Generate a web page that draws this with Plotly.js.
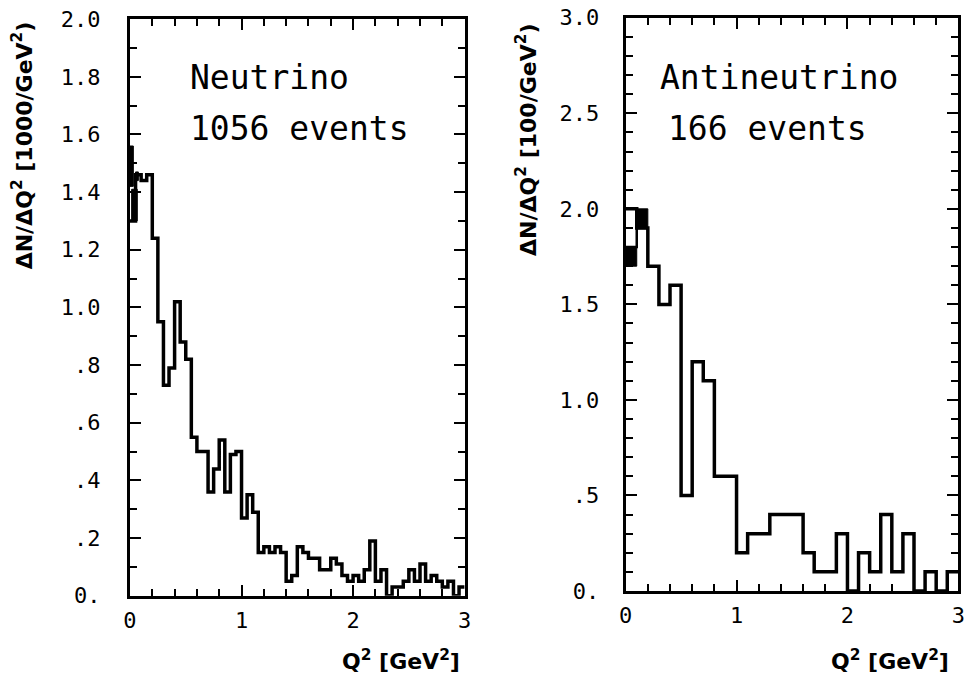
<!DOCTYPE html>
<html>
<head>
<meta charset="utf-8">
<script src="https://cdn.plot.ly/plotly-3.0.1.min.js"></script>
<style>
  html, body { margin: 0; padding: 0; background: #fff; }
  #chart { width: 970px; height: 684px; }
</style>
</head>
<body>
<div id="chart"></div>
<script>
// ---------- Neutrino sample: dN/dQ2 in units of 1000/GeV^2, 0.05 GeV^2 bins ----------
const nuBinWidth = 0.05;
const nuValues = [
  1.30, 1.46, 1.44, 1.46, 1.24, 0.95, 0.73, 0.79, 1.02, 0.88,
  0.82, 0.55, 0.50, 0.50, 0.36, 0.44, 0.54, 0.36, 0.49, 0.50,
  0.27, 0.35, 0.29, 0.15, 0.17, 0.15, 0.17, 0.15, 0.05, 0.07,
  0.17, 0.15, 0.13, 0.13, 0.09, 0.09, 0.13, 0.11, 0.07, 0.05,
  0.07, 0.05, 0.09, 0.19, 0.05, 0.09, 0.00, 0.03, 0.03, 0.05,
  0.09, 0.05, 0.11, 0.05, 0.07, 0.05, 0.03, 0.05, 0.00, 0.03
];
// shaded (black) pieces in the lowest-Q2 bins
const nuBandStart = [0.000, 0.015, 0.050];
const nuBandWidth = [0.030, 0.050, 0.025];
const nuBandLow   = [1.42, 1.30, 1.44];
const nuBandHigh  = [1.56, 1.41, 1.47];

// ---------- Antineutrino sample: dN/dQ2 in units of 100/GeV^2, 0.1 GeV^2 bins ----------
const anuBinWidth = 0.1;
const anuValues = [
  2.0, 1.9, 1.7, 1.5, 1.6, 0.5, 1.2, 1.1, 0.6, 0.6,
  0.2, 0.3, 0.3, 0.4, 0.4, 0.4, 0.2, 0.1, 0.1, 0.3,
  0.0, 0.2, 0.1, 0.4, 0.1, 0.3, 0.0, 0.1, 0.0, 0.1
];
const anuInnerValues = [1.8, 1.9];
const anuBandStart = [0.0, 0.1];
const anuBandWidth = [0.1, 0.1];
const anuBandLow   = [1.7, 1.9];
const anuBandHigh  = [1.8, 2.0];

// ---------- tick labels ----------
const xTickVals   = [0, 1, 2, 3];
const xTickText   = ['0', '1', '2', '3'];
const nuYTickVals = [0, 0.2, 0.4, 0.6, 0.8, 1.0, 1.2, 1.4, 1.6, 1.8, 2.0];
const nuYTickText = ['0.', '.2', '.4', '.6', '.8', '1.0', '1.2', '1.4', '1.6', '1.8', '2.0'];
const anuYTickVals = [0, 0.5, 1.0, 1.5, 2.0, 2.5, 3.0];
const anuYTickText = ['0.', '.5', '1.0', '1.5', '2.0', '2.5', '3.0'];

// ---------- texts ----------
const nuYTitle  = 'ΔN/ΔQ<sup>2</sup> [1000/GeV<sup>2</sup>)';
const anuYTitle = 'ΔN/ΔQ<sup>2</sup> [100/GeV<sup>2</sup>)';
const xTitle    = 'Q<sup>2</sup> [GeV<sup>2</sup>]';
const nuLabel   = ['Neutrino', '1056 events'];
const anuLabel  = ['Antineutrino', '166 events'];

// step outline: left edges of every bin plus the closing edge
function stepTrace(values, width, xa, ya, lw) {
  const x = values.map((_, i) => i * width);
  x.push(values.length * width);
  const y = values.slice();
  y.push(values[values.length - 1]);
  return {
    type: 'scatter', mode: 'lines', x: x, y: y,
    xaxis: xa, yaxis: ya, hoverinfo: 'skip',
    line: { shape: 'hv', color: '#000', width: lw }
  };
}

function bandTrace(start, width, low, high, xa, ya) {
  return {
    type: 'bar', x: start, width: width, offset: 0,
    base: low, y: high.map((h, i) => h - low[i]),
    xaxis: xa, yaxis: ya, hoverinfo: 'skip',
    marker: { color: '#000', line: { color: '#000', width: 1 } }
  };
}

const tickFont = { family: 'DejaVu Sans Mono, monospace', size: 22, color: '#000' };

function xAxis(domain, anchor) {
  return {
    domain: domain, anchor: anchor, range: [0, 3], fixedrange: true,
    tickmode: 'array', tickvals: xTickVals, ticktext: xTickText,
    ticks: 'inside', ticklen: 11, tickwidth: 2, tickcolor: '#000',
    minor: { tick0: 0, dtick: 0.2, ticks: 'inside', ticklen: 7, tickwidth: 2, tickcolor: '#000' },
    showline: true, linewidth: 3, linecolor: '#000', mirror: 'ticks',
    showgrid: false, zeroline: false,
    tickfont: tickFont, ticklabelstandoff: 3
  };
}

function yAxis(domain, anchor, max, vals, text, standoff) {
  return {
    domain: domain, anchor: anchor, range: [0, max], fixedrange: true,
    tickmode: 'array', tickvals: vals, ticktext: text,
    ticks: 'inside', ticklen: 11, tickwidth: 2, tickcolor: '#000',
    minor: { tick0: 0, dtick: 0.1, ticks: 'inside', ticklen: 7, tickwidth: 2, tickcolor: '#000' },
    showline: true, linewidth: 3, linecolor: '#000', mirror: 'ticks',
    showgrid: false, zeroline: false,
    tickfont: tickFont, ticklabelstandoff: standoff
  };
}

const data = [
  bandTrace(nuBandStart, nuBandWidth, nuBandLow, nuBandHigh, 'x', 'y'),
  stepTrace(nuValues, nuBinWidth, 'x', 'y', 3.5),
  bandTrace(anuBandStart, anuBandWidth, anuBandLow, anuBandHigh, 'x2', 'y2'),
  stepTrace(anuInnerValues, anuBinWidth, 'x2', 'y2', 2.5),
  stepTrace(anuValues, anuBinWidth, 'x2', 'y2', 3.5)
];

const titleFont = { family: 'DejaVu Sans, sans-serif', size: 22, color: '#000', weight: 'bold' };
const panelFont = { family: 'DejaVu Sans Mono, monospace', size: 33, color: '#000' };

function note(text, x, y, font, extra) {
  return Object.assign({
    text: text, xref: 'paper', yref: 'paper', x: x, y: y,
    showarrow: false, font: font
  }, extra || {});
}

const layout = {
  width: 970, height: 684,
  margin: { l: 0, r: 0, t: 0, b: 0 },
  paper_bgcolor: '#fff', plot_bgcolor: '#fff',
  showlegend: false, bargap: 0,
  xaxis:  xAxis([0.134, 0.479], 'y'),
  yaxis:  yAxis([0.129, 0.972], 'x', 2.0, nuYTickVals, nuYTickText, 22),
  xaxis2: xAxis([0.645, 0.988], 'y2'),
  yaxis2: yAxis([0.136, 0.974], 'x2', 3.0, anuYTickVals, anuYTickText, 19),
  annotations: [
    note('<b>' + nuYTitle + '</b>', 0.023, 0.788, titleFont, { textangle: -90, xanchor: 'center', yanchor: 'middle' }),
    note('<b>' + anuYTitle + '</b>', 0.543, 0.795, titleFont, { textangle: -90, xanchor: 'center', yanchor: 'middle' }),
    note('<b>' + xTitle + '</b>', 0.413, 0.035, titleFont, { xanchor: 'center', yanchor: 'middle' }),
    note('<b>' + xTitle + '</b>', 0.918, 0.035, titleFont, { xanchor: 'center', yanchor: 'middle' }),
    note(nuLabel[0], 0.194, 0.886, panelFont, { xanchor: 'left', yanchor: 'middle' }),
    note(nuLabel[1], 0.194, 0.812, panelFont, { xanchor: 'left', yanchor: 'middle' }),
    note(anuLabel[0], 0.678, 0.886, panelFont, { xanchor: 'left', yanchor: 'middle' }),
    note(anuLabel[1], 0.687, 0.812, panelFont, { xanchor: 'left', yanchor: 'middle' })
  ]
};

Plotly.newPlot('chart', data, layout, { staticPlot: true, displayModeBar: false });
</script>
</body>
</html>
